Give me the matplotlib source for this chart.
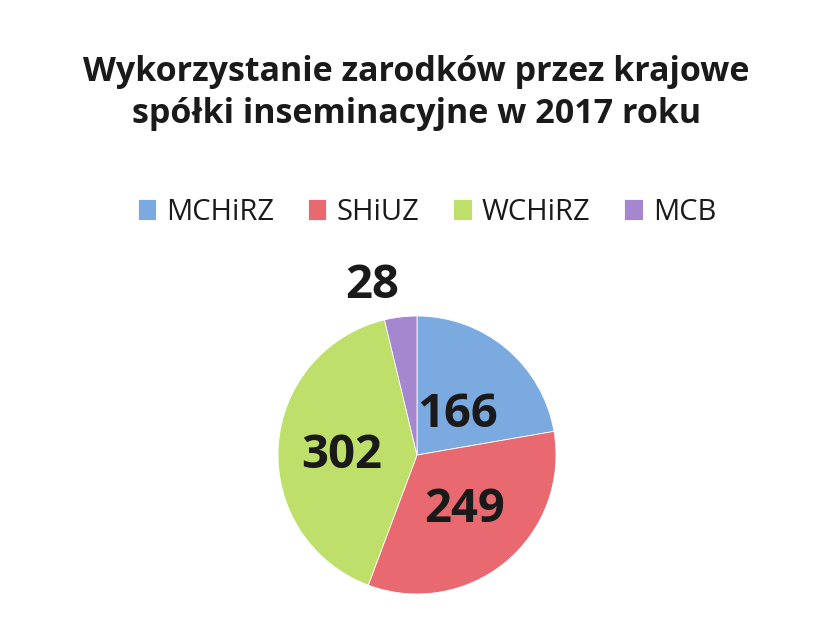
import numpy as np
import matplotlib.pyplot as plt

plt.rcParams['font.family'] = ['Open Sans', 'DejaVu Sans']

# data
companies = ['MCHiRZ', 'SHiUZ', 'WCHiRZ', 'MCB']
values = [166, 249, 302, 28]
colors = ['#7aaae0', '#e8696f', '#bedf6a', '#a587cf']
# where each value label sits (x centre, baseline), in pie radii from the centre
label_pos = [(0.295, 0.201), (0.345, -0.482), (-0.54, -0.094), (-0.324, 1.129)]

fig = plt.figure(figsize=(8.33, 6.4), dpi=100)
r_px = 139
ax = fig.add_axes([(417 - r_px) / 833, 1 - (455 + r_px) / 640,
                   2 * r_px / 833, 2 * r_px / 640])

wedges, _ = ax.pie(values, colors=colors, startangle=90, counterclock=False,
                   wedgeprops=dict(linewidth=0.6, edgecolor='white'))
ax.set_xlim(-1, 1)
ax.set_ylim(-1, 1)
ax.set_aspect('equal')

for v, (lx, ly) in zip(values, label_pos):
    ax.text(lx, ly, str(v), ha='center', va='baseline',
            fontsize=34, fontweight='bold', color='#1a1a1a', clip_on=False)

fig.text(0.5, 1 - 93 / 640, 'Wykorzystanie zarodków przez krajowe\nspółki inseminacyjne w 2017 roku',
         ha='center', va='center', fontsize=24.5, fontweight='bold', color='#1a1a1a',
         linespacing=1.3)

fig.legend(wedges, companies, loc='center', bbox_to_anchor=(427 / 833, 1 - 212 / 640),
           ncol=4, frameon=False, fontsize=21, handlelength=0.62, handleheight=0.75,
           handletextpad=0.35, columnspacing=1.17, labelcolor='#1a1a1a')

plt.savefig('out.png', dpi=100)
